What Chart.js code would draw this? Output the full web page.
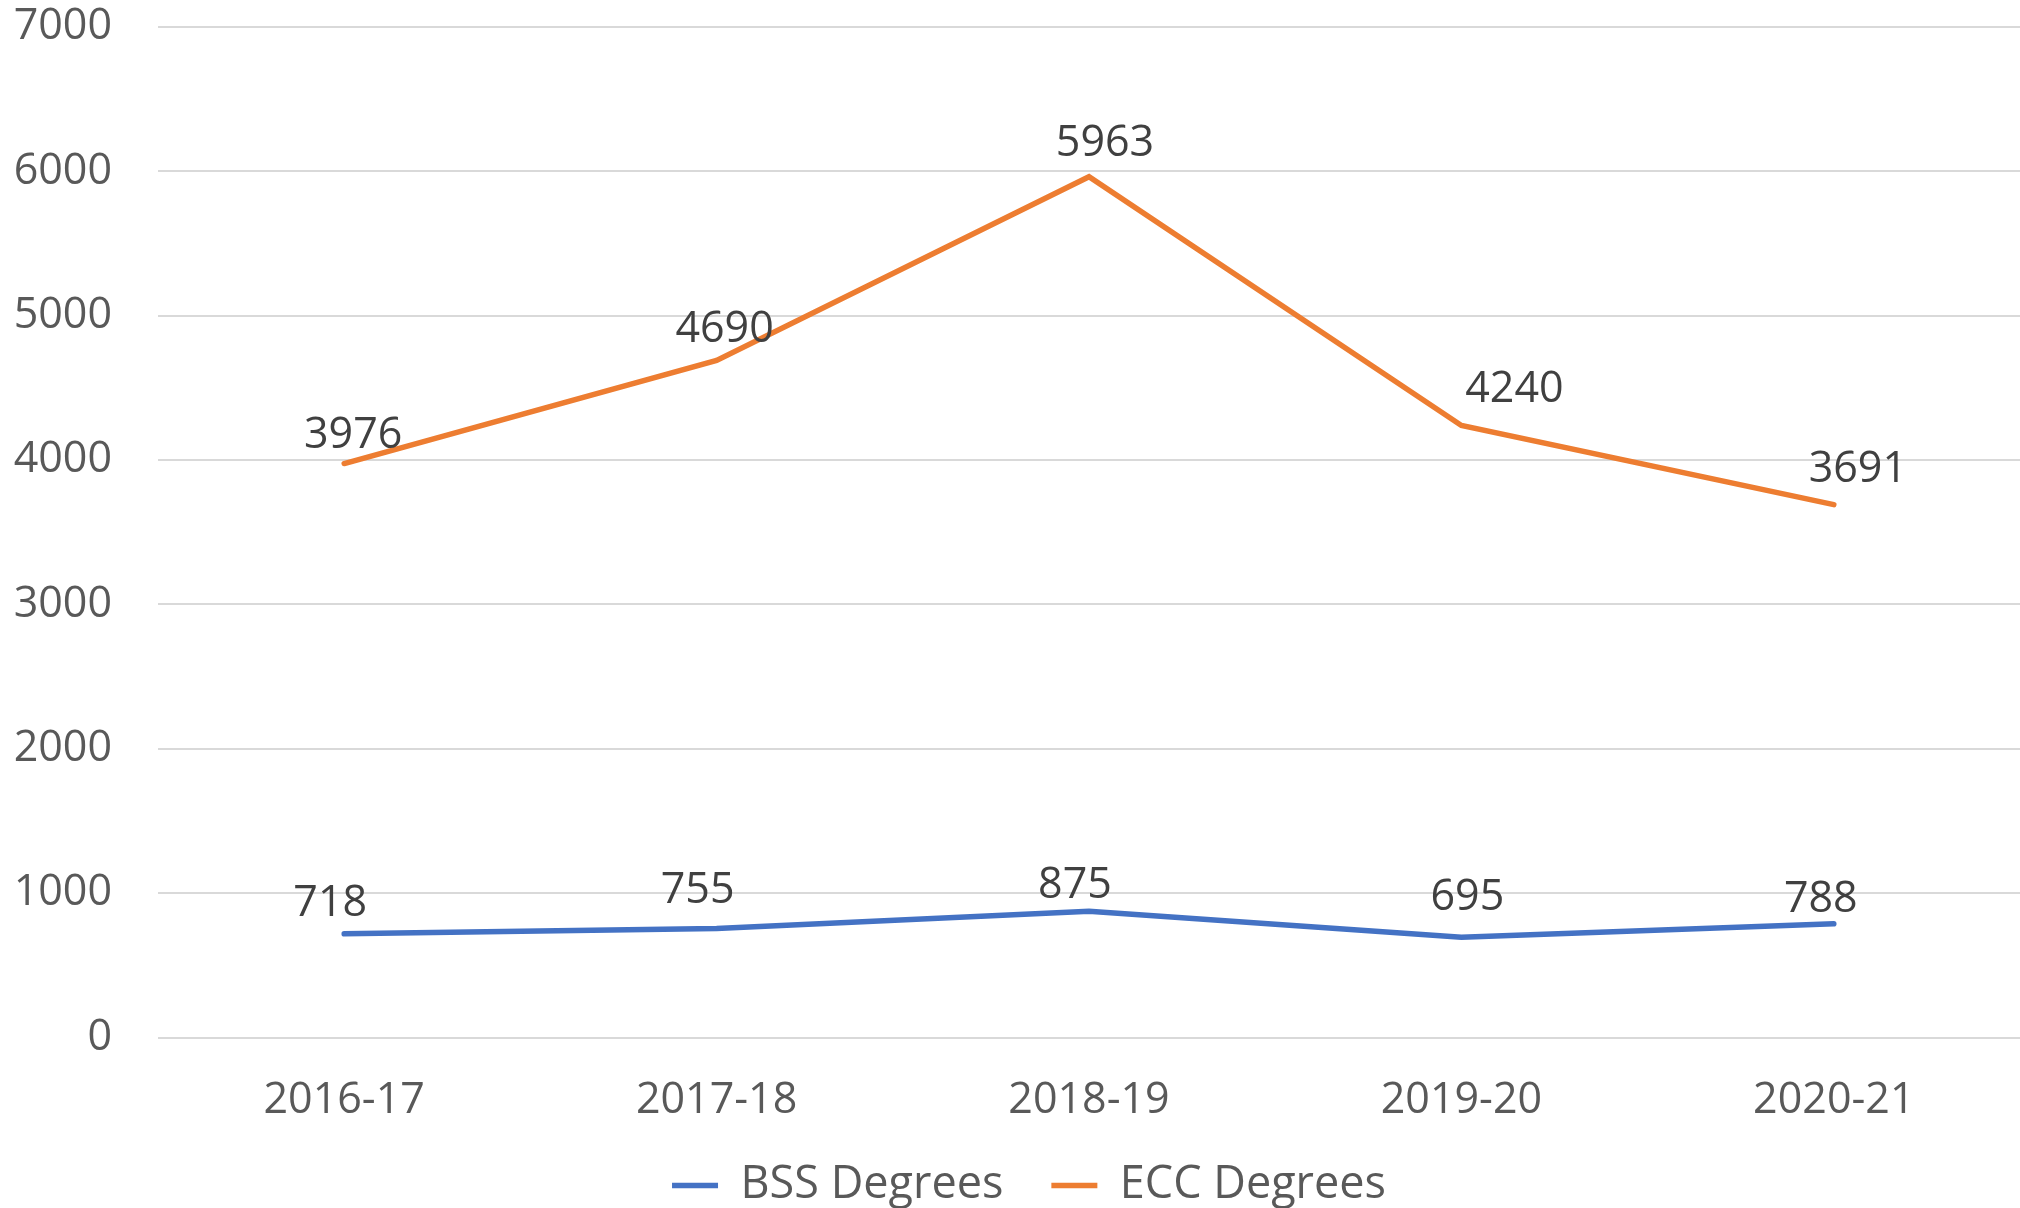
<!DOCTYPE html>
<html>
<head>
<meta charset="utf-8">
<script src="https://cdn.jsdelivr.net/npm/chart.js@4.4.0/dist/chart.umd.min.js"></script>
<style>
  html, body { margin: 0; padding: 0; background: #fff; }
  #wrap { width: 2020px; height: 1208px; position: relative; }
</style>
</head>
<body>
<div id="wrap"><canvas id="myChart"></canvas></div>
<script>
  const categories = ['2016-17', '2017-18', '2018-19', '2019-20', '2020-21'];
  const bssDegrees = [718, 755, 875, 695, 788];
  const eccDegrees = [3976, 4690, 5963, 4240, 3691];
  const yTicks = [0, 1000, 2000, 3000, 4000, 5000, 6000, 7000];

  // label nudges (px) so the numbers sit roughly where Excel put them
  const labelShift = [
    { dx: [-14, -19, -14, 6, -13], dy: [-30, -38, -25, -39, -24] },
    { dx: [9, 8, 16, 53, 24], dy: [-28, -31, -33, -36, -35] }
  ];

  const pointLabels = {
    id: 'pointLabels',
    afterDatasetsDraw(chart) {
      const ctx = chart.ctx;
      ctx.save();
      ctx.font = '43px "Open Sans"';
      ctx.fillStyle = '#404040';
      ctx.textAlign = 'center';
      ctx.textBaseline = 'middle';
      chart.data.datasets.forEach((ds, i) => {
        chart.getDatasetMeta(i).data.forEach((pt, j) => {
          const s = labelShift[i];
          ctx.fillText(ds.data[j], pt.x + s.dx[j], pt.y + s.dy[j]);
        });
      });
      ctx.restore();
    }
  };

  // legend sits a bit right of centre in the original
  const nudgeLegend = {
    id: 'nudgeLegend',
    afterLayout(chart) {
      if (chart.legend) chart.legend.left += 38;
    }
  };

  const ctx = document.getElementById('myChart').getContext('2d');
  const myChart = new Chart(ctx, {
    type: 'line',
    data: {
      labels: categories,
      datasets: [{
        label: 'BSS Degrees',
        data: bssDegrees,
        borderColor: '#4472C4',
        backgroundColor: '#4472C4',
        borderWidth: 5.5,
        pointRadius: 0,
        borderCapStyle: 'round',
        tension: 0
      }, {
        label: 'ECC Degrees',
        data: eccDegrees,
        borderColor: '#ED7D31',
        backgroundColor: '#ED7D31',
        borderWidth: 5.5,
        pointRadius: 0,
        borderCapStyle: 'round',
        tension: 0
      }]
    },
    options: {
      responsive: true,
      maintainAspectRatio: false,
      animation: false,
      layout: { padding: { top: 27, right: 0, bottom: -10, left: 0 } },
      plugins: {
        tooltip: { enabled: false },
        legend: {
          position: 'bottom',
          labels: {
            usePointStyle: true,
            pointStyle: 'line',
            pointStyleWidth: 46,
            padding: 48,
            color: '#595959',
            font: { family: '"Open Sans"', size: 45 }
          }
        }
      },
      scales: {
        x: {
          offset: true,
          grid: { display: false },
          border: { display: false },
          ticks: {
            color: '#595959',
            padding: 29,
            font: { family: '"Open Sans"', size: 43 }
          },
          afterFit(scale) { scale.height = 77.5; }
        },
        y: {
          min: 0,
          max: 7000,
          afterBuildTicks(scale) { scale.ticks = yTicks.map(v => ({ value: v })); },
          grid: { color: '#D9D9D9', lineWidth: 2, drawTicks: false },
          border: { display: false },
          ticks: {
            color: '#595959',
            padding: 46,
            font: { family: '"Open Sans"', size: 43 },
            callback: v => String(v)
          },
          afterFit(scale) {
            scale.width = 158;
            scale.paddingTop = 0;
            scale.paddingBottom = 0;
          }
        }
      }
    },
    plugins: [pointLabels, nudgeLegend]
  });
</script>
</body>
</html>
